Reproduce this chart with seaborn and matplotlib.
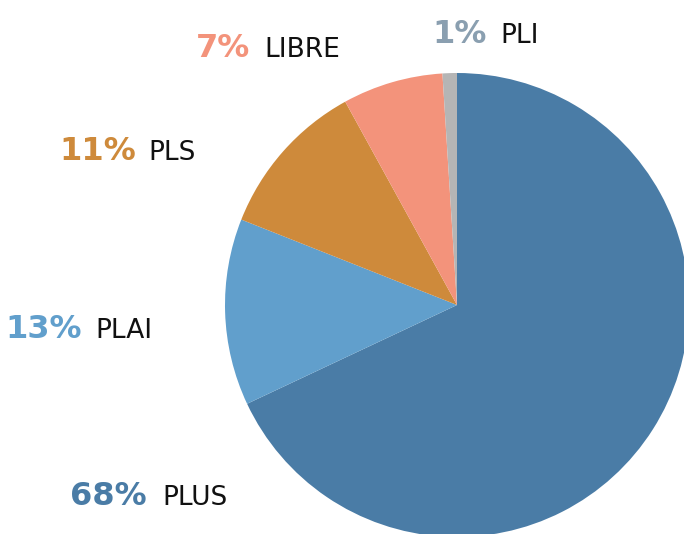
import matplotlib
matplotlib.use("Agg")
import matplotlib.pyplot as plt
import seaborn as sns

# Data
categories = ["PLUS", "PLAI", "PLS", "LIBRE", "PLI"]
shares = [68, 13, 11, 7, 1]
pct_labels = ["68%", "13%", "11%", "7%", "1%"]
slice_colors = ["#4a7ca6", "#619fcc", "#ce8a3b", "#f3937b", "#b5b5b5"]
pct_colors = ["#4a7ca6", "#619fcc", "#ce8a3b", "#f3937b", "#8a9fb0"]

sns.set_theme(style="white")
plt.rcParams["font.family"] = ["DejaVu Sans"]

W, H = 684, 534
fig = plt.figure(figsize=(W / 100, H / 100), dpi=100)
ax = fig.add_axes([0, 0, 1, 1])

cx, cy, r = 457, H - 305, 232
ax.pie(shares, colors=slice_colors, startangle=90, counterclock=False,
       center=(cx, cy), radius=r, frame=True,
       wedgeprops=dict(linewidth=0))
ax.set_xlim(0, W)
ax.set_ylim(0, H)
ax.set_aspect("equal")
ax.axis("off")

# label layout: (pct right x, name left x, baseline y from top)
layout = [(147, 162, 505), (82, 95, 338), (136, 148, 160), (250, 264, 57), (487, 500, 43)]
for (px, nx, by), pct, name, col in zip(layout, pct_labels, categories, pct_colors):
    ax.text(px, H - by, pct, color=col, fontsize=23, fontweight="bold",
            ha="right", va="baseline")
    ax.text(nx, H - by, name, color="#111111", fontsize=19,
            ha="left", va="baseline")

fig.savefig("out.png", dpi=100)
